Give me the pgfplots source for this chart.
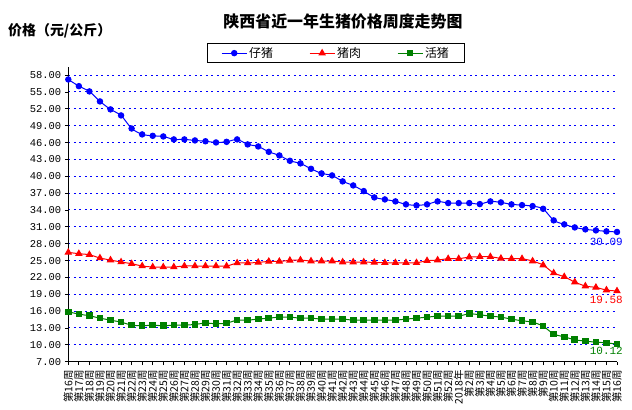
\documentclass[border=0pt]{standalone}
\usepackage{fontspec}
\setmainfont{Liberation Serif}
\newfontfamily\cjk{Noto Sans CJK SC}
\newfontfamily\monof{Liberation Mono}
\usepackage{pgfplots}
\pgfplotsset{compat=1.18}
\usepackage{pgfplotstable}

\pgfplotstableread{
x zz zr hz
0 57.23 26.46 15.88
1 56.04 26.22 15.47
2 55.10 26.04 15.17
3 53.32 25.45 14.75
4 51.90 25.09 14.40
5 50.83 24.74 14.04
6 48.50 24.44 13.51
7 47.45 24.03 13.39
8 47.20 23.85 13.51
9 47.09 23.85 13.39
10 46.56 23.85 13.51
11 46.56 24.03 13.51
12 46.38 24.03 13.63
13 46.23 24.03 13.88
14 46.02 24.03 13.75
15 46.13 24.02 13.86
16 46.56 24.56 14.40
17 45.67 24.56 14.40
18 45.31 24.67 14.58
19 44.35 24.85 14.75
20 43.71 24.85 14.93
21 42.75 25.03 14.93
22 42.29 25.09 14.75
23 41.33 24.91 14.75
24 40.51 24.91 14.58
25 40.15 24.91 14.58
26 39.09 24.73 14.58
27 38.37 24.73 14.40
28 37.36 24.73 14.40
29 36.24 24.67 14.40
30 35.88 24.61 14.40
31 35.53 24.61 14.40
32 35.00 24.61 14.58
33 34.82 24.61 14.75
34 35.00 24.97 14.93
35 35.53 25.09 15.11
36 35.23 25.33 15.11
37 35.23 25.33 15.11
38 35.23 25.62 15.53
39 35.05 25.68 15.35
40 35.53 25.68 15.11
41 35.35 25.39 14.93
42 35.00 25.33 14.58
43 34.87 25.33 14.28
44 34.69 24.91 14.04
45 34.21 24.20 13.33
46 32.15 22.78 11.91
47 31.44 22.12 11.43
48 30.90 21.17 10.90
49 30.55 20.46 10.66
50 30.37 20.22 10.48
51 30.20 19.75 10.36
52 30.09 19.58 10.12
}\data

\definecolor{cgreen}{RGB}{0,128,0}

\begin{document}
\begin{tikzpicture}
\useasboundingbox (0,0) rectangle (632bp,-410bp);
\begin{axis}[
  at={(68.3bp,-361.7bp)}, anchor=south west,
  scale only axis, width=548.7bp, height=295bp,
  xmin=0, xmax=52, ymin=7, ymax=59.5,
  clip=false,
  axis lines=left,
  axis line style={-, line width=1bp, black},
  tick align=outside,
  major tick length=3.5bp,
  tick style={black, line width=0.8bp},
  xtick={0,...,52},
  xticklabels={第16周,第17周,第18周,第19周,第20周,第21周,第22周,第23周,第24周,第25周,第26周,第27周,第28周,第29周,第30周,第31周,第32周,第33周,第34周,第35周,第36周,第37周,第38周,第39周,第40周,第41周,第42周,第43周,第44周,第45周,第46周,第47周,第48周,第49周,第50周,第51周,第52周,2018年,第2周,第3周,第4周,第5周,第6周,第7周,第8周,第9周,第10周,第11周,第12周,第13周,第14周,第15周,第16周},
  xticklabel style={rotate=90, anchor=east, font=\cjk\fontsize{10.5}{11}\selectfont, inner sep=0bp},
  xticklabel shift=5bp,
  ytick={7,10,...,58},
  yticklabel style={font=\monof\fontsize{10.5}{12}\selectfont, /pgf/number format/assume math mode=true,
    /pgf/number format/fixed, /pgf/number format/fixed zerofill, /pgf/number format/precision=2},
  ymajorgrids,
  major grid style={blue, line width=1bp, dash pattern=on 2bp off 3.5bp},
  legend style={at={(0.488,1.046)}, anchor=center, draw=black, line width=1bp,
    font=\cjk\fontsize{12}{14}\selectfont, inner xsep=14bp, inner ysep=2bp,
    /tikz/every even column/.append style={column sep=34bp}},
  legend columns=3,
  legend image code/.code={\draw[mark repeat=2,mark phase=2,#1] plot coordinates {(0bp,0bp) (12.5bp,0bp) (25bp,0bp)};},
]
\addplot[blue, line width=1bp, smooth, tension=0.4, mark=*, mark size=2.7bp, mark options={solid}] table[x=x,y=zz]{\data};
\addplot[red, line width=1bp, smooth, tension=0.4, mark=triangle*, mark size=3.4bp, mark options={solid}] table[x=x,y=zr]{\data};
\addplot[cgreen, line width=1bp, smooth, tension=0.4, mark=square*, mark size=2.8bp, mark options={solid}] table[x=x,y=hz]{\data};
\legend{仔猪,猪肉,活猪}
\node[anchor=north east, text=blue, font=\monof\fontsize{11}{12}\selectfont, inner sep=0pt] at ([xshift=6bp,yshift=-6bp]axis cs:52,30.09) {30.09};
\node[anchor=north east, text=red, font=\monof\fontsize{11}{12}\selectfont, inner sep=0pt] at ([xshift=6bp,yshift=-5bp]axis cs:52,19.58) {19.58};
\node[anchor=north east, text=cgreen, font=\monof\fontsize{11}{12}\selectfont, inner sep=0pt] at ([xshift=6bp,yshift=-3bp]axis cs:52,10.12) {10.12};
\end{axis}
\node[font=\cjk\bfseries\fontsize{16}{18}\selectfont] at (343bp,-21bp) {陕西省近一年生猪价格周度走势图};
\node[font=\cjk\bfseries\fontsize{14}{16}\selectfont, anchor=west, inner sep=0pt] at (8bp,-31bp) {价格（元/公斤）};
\end{tikzpicture}
\end{document}
